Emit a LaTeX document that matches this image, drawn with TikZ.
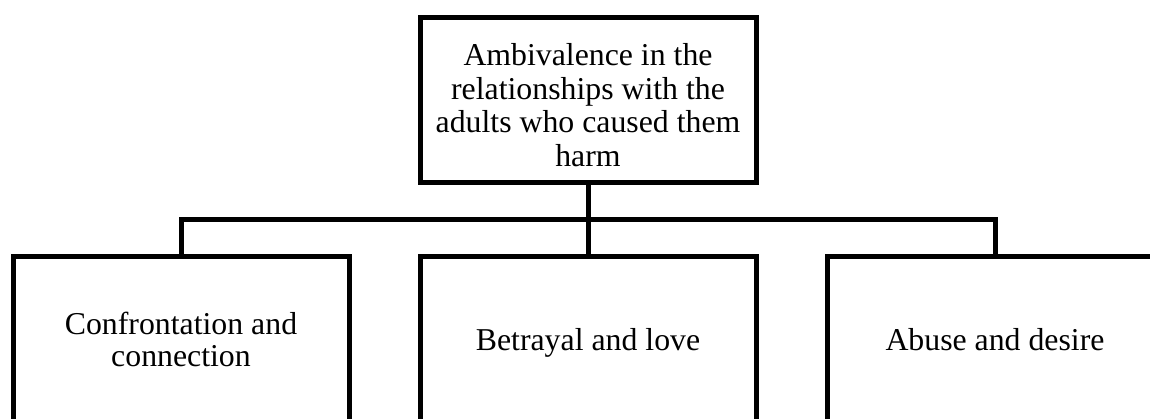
\documentclass[tikz,border=0pt]{standalone}
\usepackage{fontspec}
\setmainfont{Liberation Serif}
\tikzset{
	box/.style={draw, line width=5pt, align=center, minimum width=336pt, minimum height=165pt, inner sep=0pt, font=\fontsize{31.8}{33.5}\selectfont},
	leaf/.style={box, minimum height=174pt, font=\fontsize{31.8}{31.5}\selectfont, execute at end node=\strut}
}
\begin{document}
\begin{tikzpicture}[x=1pt,y=-1pt,line width=5pt]
		\useasboundingbox (0,0) rectangle (1150,419);
		\clip (0,0) rectangle (1150,419);
		\node[box] (top) at (588,100) {\rule{0pt}{32pt}Ambivalence in the\\relationships with the\\adults who caused them\\harm};
		\node[leaf] (c1) at (181,344) {Confrontation and\\connection};
		\node[leaf] (c2) at (588,344) {Betrayal and love};
		\node[leaf] (c3) at (995,344) {Abuse and desire};
		\coordinate (j) at (588,220);
		\draw (top) -- (j);
		\draw (c1.north) |- (j) -| (c3.north);
		\draw (j) -- (c2.north);
	\end{tikzpicture}
\end{document}
